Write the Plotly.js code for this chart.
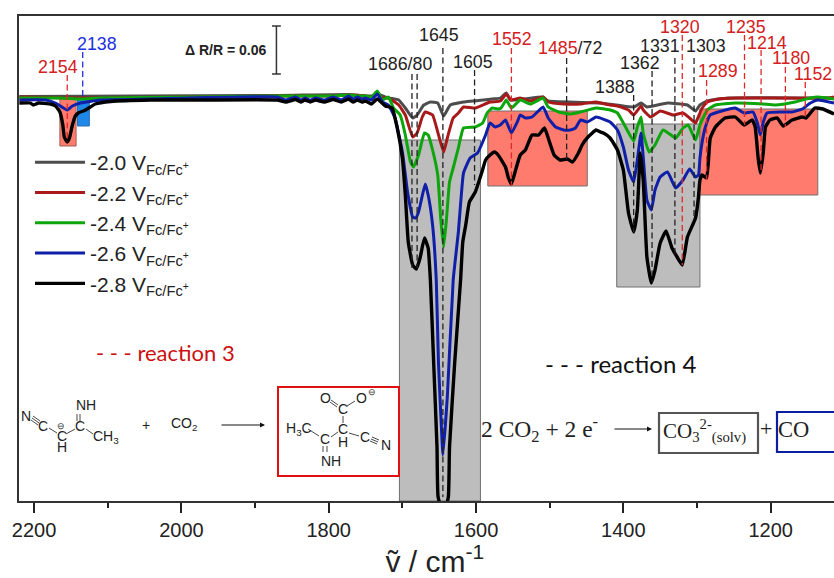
<!DOCTYPE html>
<html><head><meta charset="utf-8">
<script src="https://cdn.plot.ly/plotly-3.0.1.min.js"></script>
<style>html,body{margin:0;padding:0;background:#fff}#c{width:834px;height:578px}</style>
</head><body><div id="c"></div>
<script>
// Signal unit: 48 units = dR/R 0.06 (scale bar). Zero = baseline.
const wnBlack=[2220,2205,2201,2194,2178,2171,2165,2161,2159,2155,2152,2148,2144,2140,2130,2117,2096,2042,1974,1870,1858,1845,1838,1832,1825,1818,1806,1794,1783,1773,1767,1761,1755,1750,1742,1734,1723,1714,1707,1700,1696,1692,1686,1681,1676,1670,1665,1662,1657.5,1653,1651.5,1644,1637.6,1636,1629,1621,1618,1614,1609,1601,1592,1587,1581,1575,1570,1560,1556,1552,1547,1540,1533,1524,1515,1507,1502,1494,1486,1476,1469,1461,1456,1448,1437,1431,1427,1418,1408,1400,1393,1386,1381,1377,1373,1368,1362,1357,1350,1342,1334,1327,1320,1313,1302,1298,1296,1293,1287,1282,1275,1262,1248,1236,1225,1221,1217,1214,1210,1207,1201,1191,1183,1171,1157,1152,1146,1140,1129,1114];
const sBlack=[-6,-6,-8,-6,-7,-9,-15,-28,-40,-45,-41,-28,-19,-16,-13,-7,-4.5,-3,-3,-3,-5,-2.5,-5,-3,-5,-3,-5,-2.5,-5,-2,-5,-3,-5,-4,-7,-2,-9,-11,-31,-61,-98,-145,-168,-172,-161,-141,-151,-183,-266,-350,-400,-418,-400,-350,-266,-183,-145,-128,-105,-95,-75,-63,-58,-55,-58,-70,-81,-87,-75,-58,-53,-38,-38,-31,-41,-58,-63,-62,-65,-56,-48,-40,-33,-35,-36,-41,-53,-73,-116,-135,-113,-56,-83,-160,-186,-173,-146,-134,-151,-160,-168,-140,-121,-100,-83,-78,-81,-41,-30,-21,-20,-28,-23,-30,-61,-76,-55,-30,-23,-21,-29,-23,-20,-21,-16,-11,-12,-17];
const wnBlue=[2220,2184,2171,2155,2148,2137,2110,2042,1870,1858,1845,1838,1832,1825,1818,1806,1794,1783,1773,1767,1761,1755,1750,1742,1734,1727,1719,1710,1700,1693,1686,1682,1678,1669,1665,1659,1654,1651,1646,1645,1639,1631,1624,1620,1617,1608,1598,1587,1581,1574,1567,1560,1552,1544,1540,1533,1524,1509,1502,1492,1481,1472,1465,1458,1449,1437,1418,1408,1400,1393,1386,1381,1376,1373,1368,1362,1357,1350,1340,1329,1319,1310,1302,1298,1296,1293,1289,1282,1271,1248,1236,1224,1218,1214,1210,1205,1184,1171,1157,1146,1136,1114];
const sBlue=[-3,-3,-6,-13,-9,-6,-3,-2,0,-3,0,-3,-1,-3,-1,-3,0,-3,1,-2,0,-2,-1,-3,3,-5,-8,-21,-55,-95,-120,-121,-115,-87,-98,-128,-183,-266,-346,-358,-300,-183,-135,-98,-76,-61,-56,-38,-26,-30,-28,-23,-36,-25,-18,-21,-20,-10,-21,-30,-33,-33,-31,-23,-25,-20,-25,-33,-50,-73,-85,-63,-36,-60,-103,-113,-93,-80,-75,-91,-83,-72,-80,-78,-61,-45,-31,-18,-15,-11,-16,-15,-26,-38,-25,-16,-15,-15,-12,-6,-3,-6];
const wnGreen=[2220,2164,2137,2110,1870,1845,1794,1773,1761,1750,1742,1734,1727,1719,1712,1703,1696,1689,1685,1678,1670,1665,1659,1652,1648,1644,1640,1636,1631,1624,1617,1601,1591,1585,1578,1571,1566,1559,1552,1540,1526,1509,1502,1488,1472,1458,1437,1418,1408,1400,1386,1381,1376,1373,1365,1357,1346,1329,1319,1312,1302,1296,1286,1275,1248,1211,1194,1167,1146,1136,1114];
const sGreen=[-1,-1,-2,-1,1,1,1,2,1,1,0,6,-3,0,-11,-18,-38,-65,-70,-58,-36,-38,-53,-78,-121,-150,-121,-85,-71,-51,-31,-30,-26,-16,-11,-12,-11,-3,-11,-3,-7,-1,-10,-15,-17,-15,-11,-13,-16,-26,-44,-30,-20,-36,-55,-48,-33,-41,-31,-28,-43,-28,-13,-8,-6,-7,-8,-5,-1,0,-2];
const wnRed=[2220,2155,2110,1870,1845,1794,1773,1750,1741,1734,1727,1719,1705,1696,1686,1680,1673,1669,1659,1652,1644,1639,1631,1624,1617,1601,1581,1567,1559,1553,1540,1526,1509,1502,1481,1458,1437,1431,1418,1408,1393,1386,1376,1373,1363,1350,1332,1319,1310,1302,1300,1293,1286,1271,1244,1122,1114];
const sRed=[0,-1,-1,1,1,1,2,1,0,3,-1,-1,-8,-18,-40,-36,-20,-15,-18,-35,-55,-41,-21,-16,-10,-11,-5,-4,3,-3,-1,-4,0,-5,-7,-7,-5,-6,-8,-9,-13,-18,-9,-13,-20,-14,-18,-16,-21,-26,-23,-11,-5,-2,-1,-1,0];
const wnGray=[2220,1870,1773,1741,1734,1719,1705,1696,1686,1680,1671,1662,1652,1644,1635,1617,1578,1567,1559,1553,1509,1502,1431,1386,1376,1368,1340,1313,1302,1296,1286,1258,1122,1114];
const sGray=[0.5,1.5,2.5,1,3,-1,-3,-11,-21,-18,-8,-5,-6,-19,-8,-5,-2,-1,4,-3,0,-4,-6,-10,-6,-10,-6,-8,-14,-8,-4,-1,-1,-1];

const seriesNames=['-2.0 V<sub>Fc/Fc<sup>+</sup></sub>','-2.2 V<sub>Fc/Fc<sup>+</sup></sub>','-2.4 V<sub>Fc/Fc<sup>+</sup></sub>','-2.6 V<sub>Fc/Fc<sup>+</sup></sub>','-2.8 V<sub>Fc/Fc<sup>+</sup></sub>'];
const seriesColors=['#4d4d4d','#a81a1a','#0ca50c','#0f1fa8','#000000'];

// bands: wn from, wn to, signal top, signal bottom, fill
const bandFrom=[1704,1409,1584,1296,2165,2141];
const bandTo=[1594,1296,1449,1136,2143,2125];
const bandTop=[-43,-27,-14,-12,0,0];
const bandBottom=[-404,-190,-89,-98,-49,-29];
const bandFill=['#bdbdbd','#bdbdbd','#ff7b6e','#ff7b6e','#ff7b6e','#1e88e8'];
const bandEdge=['#707070','#707070','#707070','#707070','#a06058','#2a6cb0'];

// peak markers
const peakWn=[2155,2134,1687,1680,1645,1602,1552,1477,1386,1361,1330,1320,1304,1287,1235.5,1213,1180,1153];
const peakTop=[22,45,23,23,49,27,49,39,2,26,39,62,39,17,62,47,30,15];
const peakBottom=[-45,0,-171,-171,-400,-88,-89,-63,-135,-185,-160,-168,-123,-83,-28,-76,-30,-23];
const peakColor=['r','b','k','k','k','k','r','k','k','k','k','r','k','r','r','r','r','r'];
const labelText=['2154','2138','1686/80','1645','1605','1552','<span style="color:#d42020">1485</span>/72','1388','1362','1331','1320','1303','1289','1235','1214','1180','1152'];
const labelWn=[2168,2114,1703,1650,1604,1551,1473,1411,1377,1350,1323,1288,1271,1233,1205,1172,1142];
const labelS=[30,53,33,62,35,58,49,10,34,51,70,51,26,70,54,39,23];
const labelColor=['#d42020','#2030e0','#222','#222','#222','#d42020','#222','#222','#222','#222','#d42020','#222','#d42020','#d42020','#d42020','#d42020','#d42020'];

const W=834,H=578,L=19,T=16,B=501,R=834;
const px=x=>(x-L)/(R-L), py=y=>(B-y)/(B-T);
const colorOf={r:'#e02828',b:'#2030e0',k:'#222'};

const traces=[[wnGray,sGray],[wnRed,sRed],[wnGreen,sGreen],[wnBlue,sBlue],[wnBlack,sBlack]].map((d,i)=>({
  x:d[0],y:d[1],type:'scatter',mode:'lines',name:seriesNames[i],
  line:{color:seriesColors[i],width:i==4?3.4:3,shape:'spline',smoothing:0.4}
}));

const shapes=[];
bandFrom.forEach((a,i)=>shapes.push({type:'rect',layer:'below',xref:'x',yref:'y',x0:a,x1:bandTo[i],y0:bandTop[i],y1:bandBottom[i],fillcolor:bandFill[i],line:{color:bandEdge[i],width:1}}));
peakWn.forEach((w,i)=>shapes.push({type:'line',xref:'x',yref:'y',x0:w,x1:w,y0:peakTop[i],y1:peakBottom[i],line:{color:colorOf[peakColor[i]],width:1.3,dash:'6px,3.5px'}}));
// scale bar (48 units = 0.06)
const barWn=1871,barTop=71,barBottom=23,capHalf=6;
[[barWn,barTop,barWn,barBottom],[barWn-capHalf,barTop,barWn+capHalf,barTop],[barWn-capHalf,barBottom,barWn+capHalf,barBottom]].forEach(s=>
  shapes.push({type:'line',xref:'x',yref:'y',x0:s[0],y0:s[1],x1:s[2],y1:s[3],line:{color:'#333',width:1.5}}));
// scheme boxes
const box=(x0,y0,x1,y1,c,w)=>shapes.push({type:'rect',xref:'paper',yref:'paper',x0:px(x0),x1:px(x1),y0:py(y0),y1:py(y1),line:{color:c,width:w},fillcolor:'rgba(0,0,0,0)'});
box(278,387,399,476,'#e01010',2);
box(659,413,758,453,'#555',2.2);
box(777,412,836,452,'#0a1ea0',2.2);
const bond=(x0,y0,x1,y1,w)=>shapes.push({type:'line',xref:'paper',yref:'paper',x0:px(x0),x1:px(x1),y0:py(y0),y1:py(y1),line:{color:'#333',width:w||0.9}});
// left molecule bonds
bond(32,418,39,423);bond(33,416,40,421);bond(31,420,38,425);
bond(49,428,57,433);bond(66,434,75,429);bond(77,414,77,421);bond(80,414,80,421);bond(86,429,93,434);
// right molecule bonds
bond(331,400,338,405);bond(330,402,337,407);bond(347,406,355,401);bond(343,416,343,423);
bond(349,433,359,436);bond(371,439,378,442);bond(370,441,377,444);bond(372,437,379,440);
bond(331,437,338,432);bond(308,429,319,436);bond(323,446,323,452);bond(327,446,327,452);

const anns=[];
labelText.forEach((t,i)=>anns.push({xref:'x',yref:'y',x:labelWn[i],y:labelS[i],text:t,showarrow:false,font:{family:'Liberation Sans',size:17.8,color:labelColor[i]}}));
const note=(x,y,t,size,color,family,anchor)=>anns.push({xref:'paper',yref:'paper',x:px(x),y:py(y),text:t,showarrow:false,xanchor:anchor||'center',yanchor:'middle',font:{family:family||'Liberation Sans',size:size,color:color||'#222'}});
note(226,50,'<b>Δ R/R = 0.06</b>',14,'#222');
note(94,352.5,'- - - reaction 3',22,'#cc1010','Lato','left');
note(543,363.5,'- - - reaction 4',24,'#111','Lato','left');
// molecules
[[26,416,'N'],[43,426,'C'],[62,436,'C'],[62,447,'H'],[80,426,'C'],[86,405,'NH'],[106,437,'CH<sub>3</sub>'],[146,425,'+'],[184,424,'CO<sub>2</sub>'],
 [325,398,'O'],[343,409,'C'],[361,398,'O'],[343,429,'C'],[343,442,'H'],[365,437,'C'],[386,445,'N'],[299,429,'H<sub>3</sub>C'],[325,439,'C'],[331,461,'NH']].forEach(a=>note(a[0],a[1],a[2],14,'#222'));
note(61,425.5,'⊖',9,'#333');note(372,392,'⊖',9,'#333');
// reaction 4 text
note(479,429,'2 CO<sub>2</sub> + 2 e<sup>-</sup>',23.5,'#222','Liberation Serif','left');
note(661,431,'CO<sub>3</sub><sup>2-</sup><sub>(solv)</sub>',21,'#222','Liberation Serif','left');
note(766,428,'+',22,'#222','Liberation Serif');
note(776,429,'CO',22.5,'#222','Liberation Serif','left');
// arrows
const arrow=(x0,x1,y)=>anns.push({xref:'paper',yref:'paper',x:px(x1),y:py(y),ax:x0-x1,ay:0,axref:'pixel',ayref:'pixel',text:'',showarrow:true,arrowhead:2,arrowsize:1,arrowwidth:1,arrowcolor:'#111'});
arrow(220,265,425);arrow(613,652,429);

const layout={
  width:W,height:H,margin:{l:L,r:W-R,t:T,b:H-B,pad:0},paper_bgcolor:'#fff',plot_bgcolor:'#fff',
  font:{family:'Liberation Sans',color:'#222'},
  xaxis:{range:[2220.5,1114],showgrid:false,zeroline:false,tickvals:[2200,2000,1800,1600,1400,1200],ticktext:['2200','2000','1800','1600','1400','1200'],ticks:'outside',ticklen:10,tickwidth:1.5,tickcolor:'#222',
    tickfont:{size:20,family:'Liberation Sans',color:'#222'},showline:true,linecolor:'#333',linewidth:1.5,mirror:true,
    minor:{tickvals:[2100,1900,1700,1500,1300],ticks:'outside',ticklen:5.5,tickwidth:1.5,tickcolor:'#222',showgrid:false},
    title:{text:'&nbsp;&nbsp;ṽ / cm<sup>-1</sup>',font:{size:30,family:'Liberation Sans',color:'#222'},standoff:16}},
  yaxis:{range:[-404,81],showgrid:false,zeroline:false,showticklabels:false,ticks:'',showline:true,linecolor:'#333',linewidth:1.5},
  showlegend:true,
  legend:{x:px(30),y:py(142),xanchor:'left',yanchor:'top',bgcolor:'rgba(0,0,0,0)',borderwidth:0,itemwidth:50,tracegroupgap:0,font:{size:21,family:'Liberation Sans',color:'#222'}},
  shapes:shapes,annotations:anns
};
Plotly.newPlot('c',traces,layout,{displayModeBar:false,responsive:false});
</script></body></html>
